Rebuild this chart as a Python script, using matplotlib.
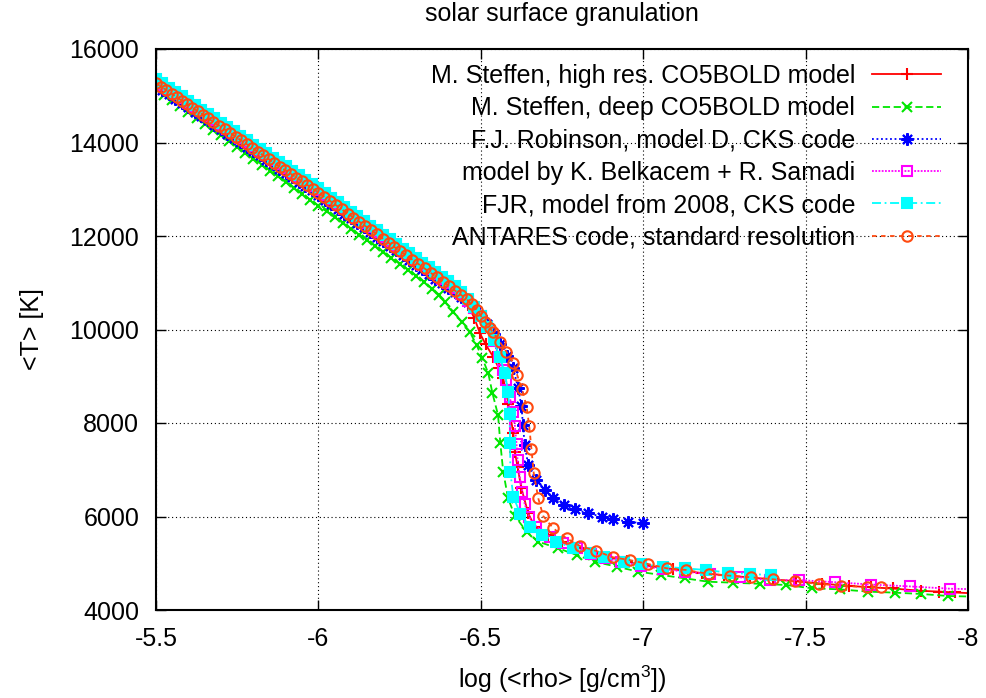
"""
Mean temperature vs. mean density for six solar surface convection models
(gnuplot-style comparison plot, redrawn with matplotlib).
"""

import matplotlib
matplotlib.use("Agg")
import matplotlib.pyplot as plt
from matplotlib.ticker import FixedLocator, FuncFormatter

# --------------------------------------------------------------------------
# Data: log <rho> [g/cm^3] and <T> [K]
# --------------------------------------------------------------------------

labels = [
    "M. Steffen, high res. CO5BOLD model",
    "M. Steffen, deep CO5BOLD model",
    "F.J. Robinson, model D, CKS code",
    "model by K. Belkacem + R. Samadi",
    "FJR, model from 2008, CKS code",
    "ANTARES code, standard resolution",
]

steffen_hr_logrho = [
    -5.50, -5.52, -5.54, -5.56, -5.58, -5.60, -5.62, -5.64, -5.66, -5.68,
    -5.70, -5.72, -5.74, -5.76, -5.78, -5.80, -5.82, -5.84, -5.86, -5.88,
    -5.90, -5.92, -5.94, -5.96, -5.98, -6.00, -6.02, -6.04, -6.06, -6.08,
    -6.10, -6.12, -6.14, -6.16, -6.18, -6.20, -6.22, -6.24, -6.26, -6.28,
    -6.30, -6.32, -6.34, -6.36, -6.38, -6.40, -6.42, -6.44, -6.46, -6.48,
    -6.497, -6.515, -6.538, -6.555, -6.569, -6.585, -6.600, -6.605, -6.613,
    -6.625, -6.646, -6.666, -6.707, -6.75, -6.80, -6.85, -6.90, -6.95, -7.00,
    -7.092, -7.18, -7.25, -7.33, -7.40, -7.47, -7.55, -7.635, -7.70, -7.768,
    -7.856, -7.912, -7.96, -8.02,
]
steffen_hr_T = [
    15300, 15206, 15113, 15019, 14926, 14832, 14738, 14645, 14551, 14458,
    14364, 14270, 14177, 14083, 13990, 13896, 13802, 13709, 13615, 13522,
    13428, 13334, 13241, 13147, 13054, 12960, 12860, 12761, 12661, 12562,
    12462, 12363, 12263, 12164, 12064, 11965, 11866, 11766, 11667, 11567,
    11468, 11368, 11269, 11169, 11070, 10960, 10830, 10700, 10520, 10250,
    9925, 9680, 9418, 9180, 8955, 8407, 7779, 7386, 7065,
    6603, 6068, 5782, 5604, 5460, 5330, 5220, 5120, 5040, 4960,
    4870, 4790, 4745, 4695, 4655, 4615, 4565, 4515, 4485, 4460,
    4410, 4393, 4375, 4355,
]

steffen_deep_logrho = [
    -5.500, -5.525, -5.550, -5.575, -5.600, -5.625, -5.650, -5.675, -5.700,
    -5.725, -5.750, -5.775, -5.800, -5.825, -5.850, -5.875, -5.900, -5.925,
    -5.950, -5.975, -6.000, -6.025, -6.050, -6.075, -6.100, -6.125, -6.150,
    -6.175, -6.200, -6.225, -6.250, -6.275, -6.300, -6.325, -6.350, -6.370,
    -6.389, -6.415, -6.441, -6.466, -6.487, -6.505, -6.523, -6.536, -6.553,
    -6.560, -6.569, -6.584, -6.605, -6.641, -6.677, -6.738, -6.795, -6.851,
    -6.918, -6.984, -7.055, -7.128, -7.200, -7.276, -7.360, -7.440, -7.520,
    -7.605, -7.692, -7.775, -7.856, -7.938, -8.020,
]
steffen_deep_T = [
    15150, 15025, 14900, 14775, 14650, 14525, 14400, 14275, 14150,
    14025, 13900, 13775, 13650, 13525, 13400, 13275, 13150, 13025,
    12900, 12775, 12650, 12525, 12400, 12280, 12155, 12030, 11905,
    11780, 11655, 11530, 11405, 11280, 11155, 11020, 10870, 10730,
    10595, 10381, 10167, 9953, 9668, 9384, 9063, 8635, 8171,
    7579, 6958, 6389, 6011, 5675, 5461, 5320, 5177, 5033,
    4927, 4822, 4749, 4678, 4605, 4584, 4560, 4535, 4464,
    4442, 4393, 4371, 4343, 4300, 4285,
]

robinson_d_logrho = [
    -5.50, -5.52, -5.54, -5.56, -5.58, -5.60, -5.62, -5.64, -5.66, -5.68,
    -5.70, -5.72, -5.74, -5.76, -5.78, -5.80, -5.82, -5.84, -5.86, -5.88,
    -5.90, -5.92, -5.94, -5.96, -5.98, -6.00, -6.02, -6.04, -6.06, -6.08,
    -6.10, -6.12, -6.14, -6.16, -6.18, -6.20, -6.22, -6.24, -6.26, -6.28,
    -6.30, -6.32, -6.34, -6.36, -6.38, -6.40, -6.42, -6.44, -6.46, -6.48,
    -6.50, -6.52, -6.54, -6.56, -6.58, -6.60, -6.615, -6.625, -6.630,
    -6.635, -6.646, -6.671, -6.697, -6.723, -6.755, -6.789, -6.831, -6.872,
    -6.908, -6.954, -6.998,
]
robinson_d_T = [
    15220, 15126, 15033, 14939, 14846, 14752, 14658, 14565, 14471, 14378,
    14284, 14190, 14097, 14003, 13910, 13816, 13722, 13629, 13535, 13442,
    13348, 13254, 13161, 13067, 12974, 12880, 12780, 12680, 12580, 12480,
    12380, 12285, 12185, 12085, 11985, 11885, 11785, 11690, 11590, 11490,
    11390, 11290, 11190, 11090, 10990, 10895, 10800, 10695, 10580, 10450,
    10290, 10110, 9910, 9680, 9430, 9170, 8742, 8364, 7950,
    7530, 7102, 6780, 6567, 6389, 6246, 6154, 6068, 5996,
    5940, 5889, 5855,
]

belkacem_logrho = [
    -5.50, -5.52, -5.54, -5.56, -5.58, -5.60, -5.62, -5.64, -5.66, -5.68,
    -5.70, -5.72, -5.74, -5.76, -5.78, -5.80, -5.82, -5.84, -5.86, -5.88,
    -5.90, -5.92, -5.94, -5.96, -5.98, -6.00, -6.02, -6.04, -6.06, -6.08,
    -6.10, -6.12, -6.14, -6.16, -6.18, -6.20, -6.22, -6.24, -6.26, -6.28,
    -6.30, -6.32, -6.34, -6.36, -6.38, -6.40, -6.42, -6.44, -6.46, -6.48,
    -6.50, -6.52, -6.54, -6.555, -6.568, -6.577, -6.589, -6.598, -6.605,
    -6.610, -6.613, -6.620, -6.628, -6.635, -6.649, -6.671, -6.712, -6.753,
    -6.795, -6.840, -6.887, -6.933, -6.994, -7.060, -7.128, -7.205, -7.297,
    -7.389, -7.480, -7.590, -7.700, -7.820, -7.946, -8.060,
]
belkacem_T = [
    15320, 15226, 15133, 15039, 14946, 14852, 14758, 14665, 14571, 14478,
    14384, 14290, 14197, 14103, 14010, 13916, 13822, 13729, 13635, 13542,
    13448, 13354, 13261, 13167, 13074, 12980, 12880, 12781, 12681, 12582,
    12482, 12383, 12283, 12184, 12084, 11985, 11886, 11786, 11687, 11587,
    11488, 11388, 11289, 11189, 11090, 10990, 10880, 10760, 10620, 10460,
    10280, 10060, 9760, 9420, 9130, 8920, 8563, 8242, 7936,
    7551, 7209, 6839, 6531, 6268, 5983, 5782, 5568, 5430,
    5320, 5200, 5105, 5033, 4941, 4880, 4819, 4770, 4700,
    4642, 4640, 4595, 4545, 4505, 4455, 4440,
]

fjr2008_logrho = [
    -5.50, -5.52, -5.54, -5.56, -5.58, -5.60, -5.62, -5.64, -5.66, -5.68,
    -5.70, -5.72, -5.74, -5.76, -5.78, -5.80, -5.82, -5.84, -5.86, -5.88,
    -5.90, -5.92, -5.94, -5.96, -5.98, -6.00, -6.02, -6.04, -6.06, -6.08,
    -6.10, -6.12, -6.14, -6.16, -6.18, -6.20, -6.22, -6.24, -6.26, -6.28,
    -6.30, -6.32, -6.34, -6.36, -6.38, -6.40, -6.42, -6.44, -6.46, -6.48,
    -6.50, -6.52, -6.54, -6.558, -6.574, -6.584, -6.589, -6.590, -6.591,
    -6.600, -6.622, -6.651, -6.687, -6.733, -6.784, -6.835, -6.880, -6.940,
    -6.994, -7.061, -7.128, -7.194, -7.261, -7.328, -7.394,
]
fjr2008_T = [
    15360, 15266, 15173, 15079, 14986, 14892, 14798, 14705, 14611, 14518,
    14424, 14330, 14237, 14143, 14050, 13956, 13862, 13769, 13675, 13582,
    13488, 13394, 13301, 13207, 13114, 13020, 12920, 12821, 12721, 12622,
    12522, 12423, 12323, 12224, 12124, 12025, 11926, 11826, 11727, 11627,
    11528, 11428, 11329, 11229, 11130, 11030, 10920, 10800, 10660, 10490,
    10290, 10060, 9780, 9418, 9077, 8670, 8193, 7579, 6958,
    6423, 6054, 5782, 5604, 5461, 5320, 5212, 5130, 5030,
    4984, 4927, 4891, 4856, 4799, 4770, 4749,
]

antares_logrho = [
    -5.500, -5.516, -5.532, -5.548, -5.564, -5.580, -5.596, -5.612, -5.628,
    -5.644, -5.660, -5.677, -5.694, -5.711, -5.728, -5.745, -5.762, -5.779,
    -5.796, -5.813, -5.830, -5.847, -5.864, -5.881, -5.898, -5.915, -5.932,
    -5.949, -5.966, -5.983, -6.000, -6.018, -6.036, -6.054, -6.072, -6.090,
    -6.108, -6.126, -6.144, -6.162, -6.180, -6.198, -6.216, -6.234, -6.252,
    -6.270, -6.289, -6.308, -6.327, -6.346, -6.365, -6.384, -6.403, -6.421,
    -6.439, -6.456, -6.472, -6.487, -6.500, -6.514, -6.527, -6.538, -6.558,
    -6.579, -6.600, -6.612, -6.627, -6.641, -6.649, -6.656, -6.663, -6.677,
    -6.692, -6.723, -6.764, -6.805, -6.856, -6.907, -6.958, -7.015, -7.073,
    -7.133, -7.202, -7.266, -7.333, -7.400, -7.466, -7.541, -7.610, -7.688,
    -7.732,
]
antares_T = [
    15270, 15195, 15120, 15045, 14970, 14895, 14820, 14745, 14670,
    14595, 14520, 14440, 14360, 14280, 14205, 14125, 14045, 13965,
    13885, 13805, 13725, 13645, 13565, 13485, 13405, 13330, 13250,
    13170, 13090, 13010, 12930, 12840, 12750, 12660, 12570, 12480,
    12395, 12305, 12215, 12125, 12035, 11945, 11855, 11765, 11675,
    11585, 11495, 11400, 11305, 11210, 11115, 11020, 10925, 10830,
    10740, 10650, 10540, 10425, 10295, 10160, 10030, 9940, 9739,
    9525, 9290, 9027, 8721, 8349, 7936, 7438, 6924, 6389,
    6011, 5747, 5533, 5369, 5262, 5127, 5069, 4984, 4891,
    4856, 4770, 4734, 4699, 4656, 4610, 4560, 4520, 4490,
    4485,
]

xticks = [-5.5, -6.0, -6.5, -7.0, -7.5, -8.0]
yticks = [4000, 6000, 8000, 10000, 12000, 14000, 16000]

# --------------------------------------------------------------------------
# Styling (gnuplot look)
# --------------------------------------------------------------------------

plt.rcParams["font.family"] = ["Liberation Sans", "DejaVu Sans"]
plt.rcParams["mathtext.fontset"] = "custom"
plt.rcParams["mathtext.rm"] = "Liberation Sans"
plt.rcParams["mathtext.default"] = "regular"
plt.rcParams["axes.unicode_minus"] = False

FS = 18

styles = [
    dict(color="#ff0000", ls="-", marker="+", ms=9, mfc="none"),
    dict(color="#00e600", ls=(0, (4, 2)), marker="x", ms=7, mfc="none"),
    dict(color="#0000ff", ls=(0, (1, 1.5)), marker=(8, 2, 0), ms=9, mfc="none"),
    dict(color="#ff00ff", ls=(0, (1, 0.8)), marker="s", ms=7, mfc="none"),
    dict(color="#00ffff", ls=(0, (5, 2, 1, 2)), marker="s", ms=6.5, mfc="#00ffff"),
    dict(color="#ff4a10", ls=(0, (2.5, 2.5)), marker="o", ms=7.5, mfc="none"),
]

series = [
    (steffen_hr_logrho, steffen_hr_T),
    (steffen_deep_logrho, steffen_deep_T),
    (robinson_d_logrho, robinson_d_T),
    (belkacem_logrho, belkacem_T),
    (fjr2008_logrho, fjr2008_T),
    (antares_logrho, antares_T),
]

fig = plt.figure(figsize=(9.86, 6.98), dpi=100)
fig.subplots_adjust(left=156 / 986, right=968 / 986,
                    bottom=1 - 610 / 698, top=1 - 49 / 698)
ax = fig.add_subplot(111)

for (x, y), lab, st in zip(series, labels, styles):
    ax.plot(x, y, label=lab, lw=1.3, mew=1.5, **st)

ax.set_xlim(-5.5, -8.0)
ax.set_ylim(4000, 16000)
ax.xaxis.set_major_locator(FixedLocator(xticks))
ax.yaxis.set_major_locator(FixedLocator(yticks))
ax.xaxis.set_major_formatter(FuncFormatter(lambda v, _: "%g" % v))
ax.yaxis.set_major_formatter(FuncFormatter(lambda v, _: "%g" % v))

ax.tick_params(direction="in", length=7, width=1.0, labelsize=FS,
               top=True, right=True)
ax.tick_params(axis="x", pad=12)
ax.tick_params(axis="y", pad=12)
for sp in ax.spines.values():
    sp.set_linewidth(1.5)

ax.grid(True, color="black", lw=0.8, ls=(0, (1, 2.5)))

ax.set_title("solar surface granulation", fontsize=FS, pad=20)
ax.set_xlabel("log (<rho> [g/cm$^3$])", fontsize=FS, labelpad=9)
ax.set_ylabel("<T> [K]", fontsize=FS, labelpad=18)

# legend: text right-aligned, line sample on the right (gnuplot key)
leg = ax.legend(loc="upper right", bbox_to_anchor=(941 / 986, 1 - 64 / 698),
                bbox_transform=fig.transFigure, frameon=False,
                markerfirst=False, numpoints=1, fontsize=FS,
                handlelength=2.75, handletextpad=0.68, labelspacing=0.33,
                borderpad=0, borderaxespad=0)

fig.savefig("out.png", dpi=100)
